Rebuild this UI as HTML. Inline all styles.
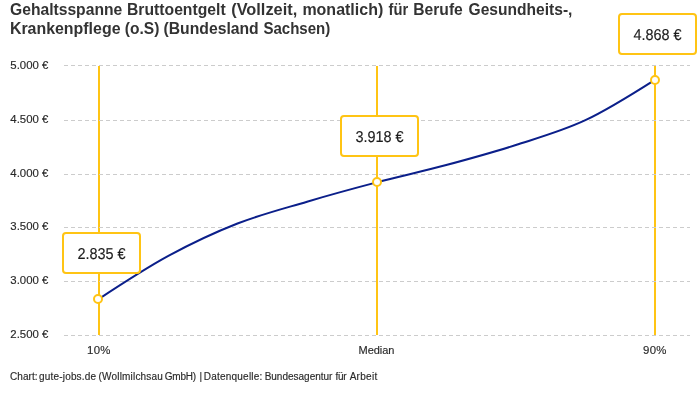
<!DOCTYPE html>
<html><head><meta charset="utf-8"><title>Chart</title>
<style>
html,body{margin:0;padding:0;background:#fff;}
body{width:700px;height:400px;overflow:hidden;font-family:"Liberation Sans",sans-serif;}
svg{display:block;will-change:transform;font-family:"Liberation Sans",sans-serif;}
.title{font-weight:bold;font-size:16px;fill:#333;}
.ylab text,.xlab text{font-size:11.4px;fill:#2a2a2a;stroke:#2a2a2a;stroke-width:0.15px;}
.foot{font-size:10px;fill:#2a2a2a;stroke:#2a2a2a;stroke-width:0.15px;}
.grid line{stroke:#cccccc;stroke-width:1;stroke-dasharray:4 3;shape-rendering:crispEdges;}
.vl rect{fill:#ffc414;shape-rendering:crispEdges;}
.curve{fill:none;stroke:#0b1f8a;stroke-width:2;stroke-linecap:butt;}
.dot circle{fill:#fff;stroke:#ffc414;stroke-width:2;}
.box rect{fill:#fff;stroke:#ffc414;stroke-width:2;}
.box text{font-size:15.8px;fill:#1c1c1c;stroke:#1c1c1c;stroke-width:0.15px;text-rendering:geometricPrecision;}
</style></head><body>
<svg width="700" height="400" viewBox="0 0 700 400">
<rect width="700" height="400" fill="#fff"/>
<g class="title"><text x="10.0" y="14.6" textLength="112.2" lengthAdjust="spacingAndGlyphs">Gehaltsspanne</text><text x="127.02" y="14.6" textLength="98.62" lengthAdjust="spacingAndGlyphs">Bruttoentgelt</text><text x="231.2" y="14.6" textLength="66.0" lengthAdjust="spacingAndGlyphs">(Vollzeit,</text><text x="302.4" y="14.6" textLength="80.83" lengthAdjust="spacingAndGlyphs">monatlich)</text><text x="388.6" y="14.6" textLength="19.61" lengthAdjust="spacingAndGlyphs">für</text><text x="413.32" y="14.6" textLength="49.48" lengthAdjust="spacingAndGlyphs">Berufe</text><text x="468.6" y="14.6" textLength="103.83" lengthAdjust="spacingAndGlyphs">Gesundheits-,</text><text x="9.9" y="33.9" textLength="110.59" lengthAdjust="spacingAndGlyphs">Krankenpflege</text><text x="124.8" y="33.9" textLength="34.5" lengthAdjust="spacingAndGlyphs">(o.S)</text><text x="163.5" y="33.9" textLength="95.2" lengthAdjust="spacingAndGlyphs">(Bundesland</text><text x="263.4" y="33.9" textLength="66.91" lengthAdjust="spacingAndGlyphs">Sachsen)</text></g>
<g class="vl"><rect x="98" y="66" width="2" height="269"/><rect x="376" y="66" width="2" height="269"/><rect x="654" y="66" width="2" height="269"/></g>
<g class="grid"><line x1="64" x2="690" y1="65.5" y2="65.5"/><line x1="64" x2="690" y1="120.5" y2="120.5"/><line x1="64" x2="690" y1="174.5" y2="174.5"/><line x1="64" x2="690" y1="227.5" y2="227.5"/><line x1="64" x2="690" y1="281.5" y2="281.5"/><line x1="64" x2="690" y1="335.5" y2="335.5"/></g>
<g class="ylab"><text x="10.3" y="69">5.000 €</text><text x="10.3" y="123">4.500 €</text><text x="10.3" y="177">4.000 €</text><text x="10.3" y="230">3.500 €</text><text x="10.3" y="284">3.000 €</text><text x="10.3" y="338">2.500 €</text></g>
<path class="curve" d="M98.30,299.30C121.50,284.04 144.69,268.79 167.89,256.15C191.08,243.52 214.28,232.58 237.48,223.50C260.67,214.42 283.87,208.53 307.06,201.68C330.26,194.83 353.45,188.50 376.65,182.40C399.85,176.30 423.04,171.30 446.24,165.08C469.43,158.85 492.63,152.52 515.83,145.04C539.02,137.56 562.22,131.07 585.41,120.20C608.61,109.32 631.80,94.56 655.00,79.80"/>
<g class="dot"><circle cx="98" cy="299" r="4"/><circle cx="377" cy="182" r="4"/><circle cx="655" cy="80" r="4"/></g>
<g class="box"><rect x="63" y="233" width="77" height="40" rx="3"/><text transform="translate(77.4,259.1) scale(0.9142,1)">2.835 €</text><rect x="341" y="116" width="77" height="40" rx="3"/><text transform="translate(355.4,142.1) scale(0.9142,1)">3.918 €</text><rect x="619" y="14" width="77" height="40" rx="3"/><text transform="translate(633.4,40.1) scale(0.9142,1)">4.868 €</text></g>
<g class="xlab"><text x="87.0" y="354" style="font-size:11.4px;letter-spacing:0.35px">10%</text><text x="358.6" y="354" style="font-size:11px;letter-spacing:-0.05px">Median</text><text x="643.0" y="354" style="font-size:11.4px;letter-spacing:0.35px">90%</text></g>
<g class="foot"><text x="9.95" y="380" style="letter-spacing:0.078px">Chart:</text><text x="39.09" y="380" style="letter-spacing:0.175px">gute-jobs.de</text><text x="98.62" y="380" style="letter-spacing:0.176px">(Wollmilchsau</text><text x="164.76" y="380" style="letter-spacing:-0.221px">GmbH)</text><text x="199.43" y="380" style="letter-spacing:0.0px">|</text><text x="203.82" y="380" style="letter-spacing:0.213px">Datenquelle:</text><text x="264.64" y="380" style="letter-spacing:-0.002px">Bundesagentur</text><text x="335.41" y="380" style="letter-spacing:-0.302px">für</text><text x="349.63" y="380" style="letter-spacing:0.287px">Arbeit</text></g>
</svg>
</body></html>
